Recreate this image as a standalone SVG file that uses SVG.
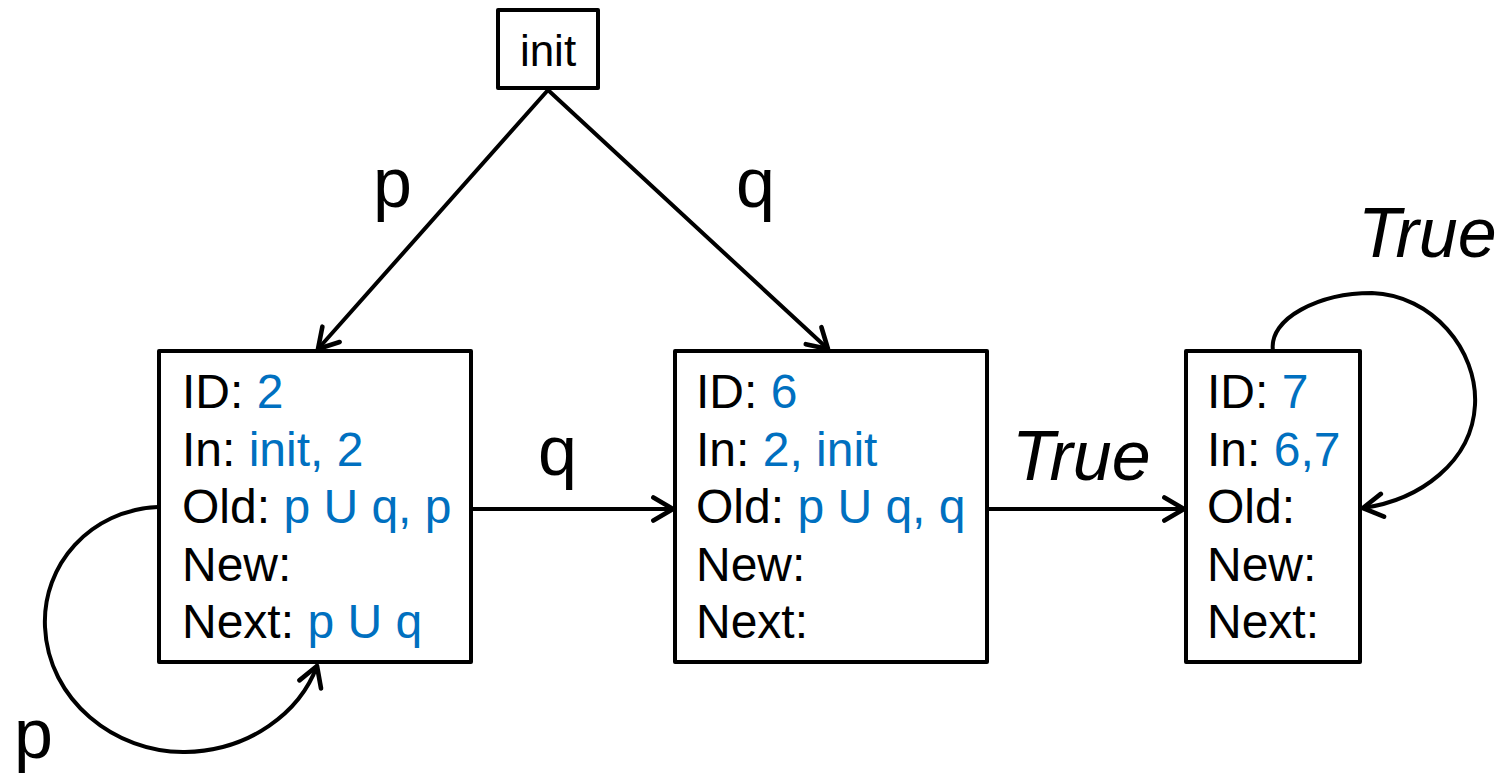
<svg xmlns="http://www.w3.org/2000/svg" width="1509" height="775" viewBox="0 0 1509 775">
<defs>
<style>
.box{fill:#fff;stroke:#000;stroke-width:4;stroke-linejoin:round}
.t{font-family:"Liberation Sans",Arial,sans-serif;font-size:48px;fill:#000}
.b{fill:#0070C0}
.lbl{font-family:"Liberation Sans",Arial,sans-serif;font-size:70px;fill:#000}
.it{font-style:italic}
.c{fill:none;stroke:#000;stroke-width:4;stroke-linecap:round}
</style>
<marker id="ah" markerUnits="userSpaceOnUse" markerWidth="30" markerHeight="30" viewBox="-22 -13 26 26" refX="0" refY="0" orient="auto">
<path d="M -17 -10 L 0 0 L -17 10" fill="none" stroke="#000" stroke-width="4" stroke-linecap="round" stroke-linejoin="round"/>
</marker>
</defs>
<rect width="1509" height="775" fill="#fff"/>
<g id="connectors">
<path class="c" d="M 548 90 L 318 349" marker-end="url(#ah)"/>
<path class="c" d="M 548 90 L 828 349" marker-end="url(#ah)"/>
<path class="c" d="M 471 509 L 673 509" marker-end="url(#ah)"/>
<path class="c" d="M 987 509 L 1184 509" marker-end="url(#ah)"/>
<path class="c" d="M 158 507 C 90 510, 42 565, 45 627 C 48 700, 115 753, 185 752 C 250 751, 300 712, 317 666" marker-end="url(#ah)"/>
<path class="c" d="M 1273 351 C 1268 318, 1320 293, 1372 293 C 1432 295, 1478 350, 1475 405 C 1472 462, 1420 500, 1363 508" marker-end="url(#ah)"/>
<text class="lbl" x="373" y="207">p</text>
<text class="lbl" x="736" y="207">q</text>
<text class="lbl" x="538" y="475">q</text>
<text class="lbl it" x="1012" y="480">True</text>
<text class="lbl it" x="1358" y="257">True</text>
<text class="lbl" x="14" y="758">p</text>
</g>
<g id="init">
<rect class="box" x="498" y="10" width="100" height="78"/>
<text class="t" x="548" y="66" text-anchor="middle" style="font-size:44px">init</text>
</g>
<g id="node2">
<rect class="box" x="159" y="351" width="312" height="311"/>
<text class="t" x="182" y="408">ID: <tspan class="b">2</tspan></text>
<text class="t" x="182" y="466">In: <tspan class="b">init, 2</tspan></text>
<text class="t" x="182" y="523">Old: <tspan class="b">p U q, p</tspan></text>
<text class="t" x="182" y="581">New:</text>
<text class="t" x="182" y="638">Next: <tspan class="b">p U q</tspan></text>
</g>
<g id="node6">
<rect class="box" x="675" y="351" width="312" height="311"/>
<text class="t" x="696" y="408">ID: <tspan class="b">6</tspan></text>
<text class="t" x="696" y="466">In: <tspan class="b">2, init</tspan></text>
<text class="t" x="696" y="523">Old: <tspan class="b">p U q, q</tspan></text>
<text class="t" x="696" y="581">New:</text>
<text class="t" x="696" y="638">Next:</text>
</g>
<g id="node7">
<rect class="box" x="1186" y="351" width="174" height="311"/>
<text class="t" x="1207" y="408">ID: <tspan class="b">7</tspan></text>
<text class="t" x="1207" y="466">In: <tspan class="b">6,7</tspan></text>
<text class="t" x="1207" y="523">Old:</text>
<text class="t" x="1207" y="581">New:</text>
<text class="t" x="1207" y="638">Next:</text>
</g>
</svg>
